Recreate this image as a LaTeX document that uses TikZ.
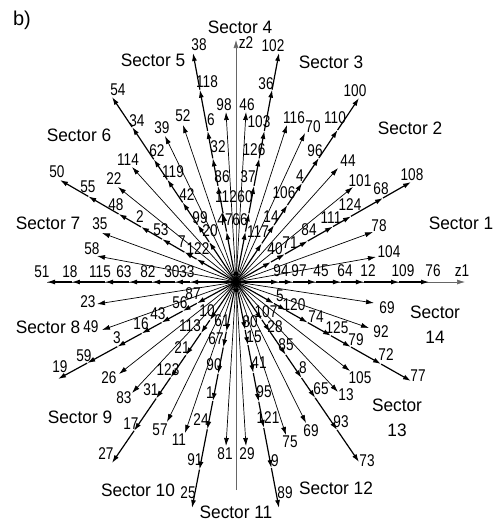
\documentclass[tikz,border=0pt]{standalone}
\usepackage{fontspec}
\setmainfont{Liberation Sans}
\usetikzlibrary{calc,arrows.meta}
\newcommand\nm[1]{\scalebox{0.8}[1]{#1}}
\newcommand\secl[1]{\scalebox{0.96}[1]{#1}}
\newcommand\hray[3]{%
  \coordinate (#1-e) at #2;
  \coordinate (#1-0) at (C);
  \foreach \t [count=\i, remember=\i as \j (initially 0)] in {#3}{
    \coordinate (#1-\i) at ($(C)!\t!(#1-e)$);
    \draw[heavy] (#1-\j) -- (#1-\i);
  }%
}
\newcommand\tray[3]{%
  \coordinate (#1-e) at #2;
  \draw[thinray] (C) -- (#1-e);
  \node[lab] (#1-l) at #3 {\nm{#1}};
}
\begin{document}
\begin{tikzpicture}[x=1pt,y=-1pt,
  heavy/.style={line width=1.2pt,-{Latex[length=8pt,width=5pt]}},
  thinray/.style={line width=0.7pt,-{Latex[length=8pt,width=5pt]}},
  axis/.style={line width=0.6pt,black!60},
  lab/.style={font=\fontsize{17}{17}\selectfont,inner sep=0pt},
  seclab/.style={font=\fontsize{18}{25}\selectfont,inner sep=0pt,align=center}]
\useasboundingbox (0,0) rectangle (498,522);
\coordinate (C) at (236,282);
% axes
\coordinate (z1s) at (47,282);
\coordinate (z1e) at (465,282);
\coordinate (z2s) at (236,490);
\coordinate (z2e) at (236,40);
\draw[axis,-{Latex[length=8pt,width=5pt]}] (z1s) -- (z1e);
\draw[axis,-{Latex[length=8pt,width=5pt]}] (z2s) -- (z2e);
\node[lab] (z1l) at (462,271) {\nm{z1}};
\node[lab] (z2l) at (246,43) {\nm{z2}};
% thin rays
\tray{104}{(376,257)}{(389,252)}
\tray{78}{(373,232)}{(379,226)}
\tray{101}{(353,187)}{(360,181)}
\tray{44}{(338,168)}{(348,161)}
\tray{70}{(305,133)}{(313,127)}
\tray{116}{(287,125)}{(294,118)}
\tray{46}{(246,112)}{(247,105)}
\tray{98}{(226,112)}{(224,105)}
\tray{52}{(183,125)}{(183,116)}
\tray{39}{(165,136)}{(162,128)}
\tray{114}{(132,167)}{(128,160)}
\tray{22}{(118,187)}{(114,179)}
\tray{35}{(102,233)}{(100,224)}
\tray{58}{(97,256)}{(92,249)}
\tray{23}{(97,304)}{(88,302)}
\tray{49}{(102,330)}{(91,327)}
\tray{26}{(119,374)}{(109,378)}
\tray{83}{(132,393)}{(124,398)}
\tray{57}{(167,422)}{(160,430)}
\tray{11}{(185,433)}{(179,440)}
\tray{81}{(226,446)}{(225,454)}
\tray{29}{(246,446)}{(247,454)}
\tray{75}{(286,435)}{(290,442)}
\coordinate (69b-e) at (306,423);
\draw[thinray] (C) -- (69b-e);
\node[lab] (69b-l) at (311,431) {\nm{69}};
\tray{13}{(338,392)}{(346,395)}
\tray{105}{(350,371)}{(360,378)}
\tray{92}{(369,328)}{(381,332)}
\tray{69}{(374,303)}{(387,308)}
% heavy rays
\hray{H0}{(429,282)}{0.223,0.295,0.415,0.544,0.663,0.845,1}
\hray{H1}{(411,182)}{0.2,0.28,0.41,0.554,0.657,0.84,1}
\hray{H2}{(359,98)}{0.21,0.31,0.418,0.538,0.674,0.826,1}
\hray{H3}{(279,53)}{0.22,0.30,0.42,0.54,0.66,0.84,1}
\hray{H4}{(193,53)}{0.22,0.30,0.42,0.54,0.66,0.84,1}
\hray{H5}{(112,97)}{0.217,0.31,0.43,0.554,0.663,0.837,1}
\hray{H6}{(60,180)}{0.224,0.293,0.42,0.54,0.667,0.839,1}
\hray{H7}{(47,282)}{0.243,0.323,0.444,0.566,0.693,0.868,1}
\hray{H8}{(58,379)}{0.22,0.30,0.418,0.53,0.667,0.836,1}
\hray{H9}{(112,463)}{0.211,0.283,0.405,0.528,0.644,0.822,1}
\hray{H10}{(192,508)}{0.22,0.29,0.406,0.527,0.652,0.83,1}
\hray{H11}{(279,508)}{0.212,0.279,0.403,0.53,0.646,0.823,1}
\hray{H12}{(359,462)}{0.21,0.278,0.405,0.533,0.644,0.822,1}
\hray{H13}{(411,381)}{0.217,0.286,0.41,0.543,0.657,0.829,1}
% heavy-ray labels
\foreach \txt/\px/\py in {94/281/271,97/299/271,45/321/271,64/345/271,12/368/271,109/403/271,76/433/271,
  40/275/249,71/290/243,84/309/230,111/331/218,124/350/205,68/381/189,108/412/175,
  117/258/232,14/271/217,106/284/193,4/300/176,96/315/151,110/335/118,100/355/91,
  66/240/220,60/245/197,37/248/177,126/254/150,103/259/122,36/266/84,102/273/46,
  47/225/220,112/226/197,86/222/177,32/218/147,6/211/120,118/207/82,38/199/45,
  20/210/231,99/200/218,42/187/195,119/173/172,62/157/151,34/137/121,54/118/90,
  122/198/249,7/182/242,53/161/230,2/140/217,48/116/205,55/88/187,50/57/172,
  33/187/272,30/172/272,82/148/272,63/124/272,115/100/272,18/70/272,51/42/272,
  87/193/294,56/180/303,43/158/314,16/141/324,3/117/338,59/84/356,19/60/367,
  10/207/311,113/190/326,21/182/348,123/168/370,31/151/390,17/131/424,27/106/454,
  61/222/321,67/216/339,90/214/365,1/210/393,24/201/420,91/195/460,25/188/493,
  80/250/322,15/254/337,41/259/363,95/264/392,121/268/418,9/275/461,89/285/493,
  107/266/312,28/275/327,85/286/345,8/303/368,65/321/389,93/341/422,73/367/461,
  5/280/296,120/294/305,74/316/317,125/337/328,79/356/340,72/386/355,77/418/376}{
  \node[lab] (n\txt) at (\px,\py) {\nm{\txt}};
}
% sector labels
\node[seclab] (s1) at (461,223) {\secl{Sector 1}};
\node[seclab] (s2) at (410,128) {\secl{Sector 2}};
\node[seclab] (s3) at (331,62) {\secl{Sector 3}};
\node[seclab] (s4) at (240,27) {\secl{Sector 4}};
\node[seclab] (s5) at (153,60) {\secl{Sector 5}};
\node[seclab] (s6) at (79,135) {\secl{Sector 6}};
\node[seclab] (s7) at (48,223) {\secl{Sector 7}};
\node[seclab] (s8) at (48,327) {\secl{Sector 8}};
\node[seclab] (s9) at (80,417) {\secl{Sector 9}};
\node[seclab] (s10) at (138,490) {\secl{Sector 10}};
\node[seclab] (s11) at (236,512) {\secl{Sector 11}};
\node[seclab] (s12) at (336,488) {\secl{Sector 12}};
\node[seclab] (s13) at (397,418) {\secl{Sector}\\\secl{13}};
\node[seclab] (s14) at (435,325) {\secl{Sector}\\\secl{14}};
\node[font=\fontsize{20}{20}\selectfont,inner sep=0pt] (b) at (22,20) {b)};
\end{tikzpicture}
\end{document}
